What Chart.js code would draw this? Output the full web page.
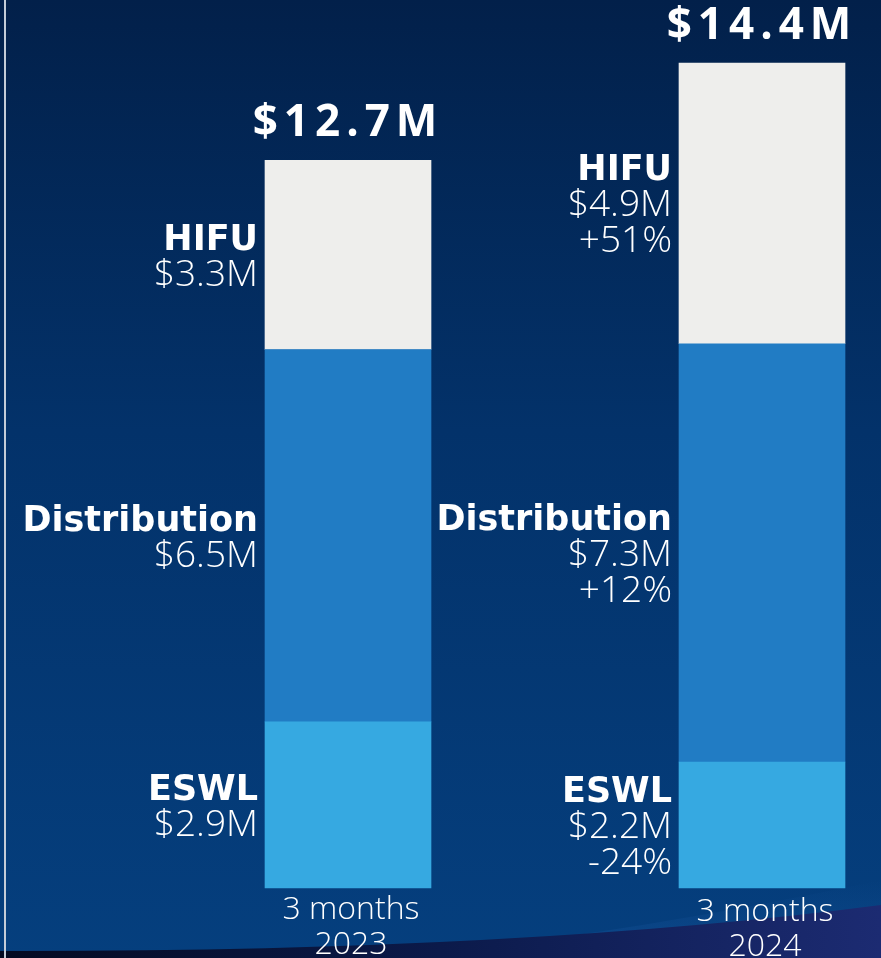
<!DOCTYPE html>
<html>
<head>
<meta charset="utf-8">
<script src="https://cdn.jsdelivr.net/npm/chart.js@4"></script>
<style>
  html, body { margin: 0; padding: 0; background: #03305f; }
  #wrap { width: 881px; height: 958px; position: relative; }
  canvas { display: block; }
</style>
</head>
<body>
<div id="wrap"><canvas id="c" width="881" height="958"></canvas></div>
<script>
// ---- data ----
const periodLines = [['3 months', '2023'], ['3 months', '2024']];
const segmentNames = ['ESWL', 'Distribution', 'HIFU'];
const eswlValues = [2.9, 2.2];
const distributionValues = [6.5, 7.3];
const hifuValues = [3.3, 4.9];
const eswlChange = [null, '-24%'];
const distributionChange = [null, '+12%'];
const hifuChange = [null, '+51%'];
const totalLabels = ['$12.7M', '$14.4M'];

const segmentColors = ['#36a9e1', '#217cc4', '#eeeeec'];
const seriesValues = [eswlValues, distributionValues, hifuValues];
const seriesChanges = [eswlChange, distributionChange, hifuChange];

const BOLD = 'bold 35px "DejaVu Sans"';
const LIGHT = '300 37px "Open Sans"';

const backgroundPlugin = {
  id: 'bg',
  beforeDraw(chart) {
    const ctx = chart.ctx, W = chart.width, H = chart.height;
    ctx.save();
    const g = ctx.createLinearGradient(0, 0, 0, H);
    g.addColorStop(0, '#02204a');
    g.addColorStop(0.45, '#03326a');
    g.addColorStop(1, '#053f7e');
    ctx.fillStyle = g;
    ctx.fillRect(0, 0, W, H);
    // soft glow above the swoosh on the right
    const gl = ctx.createLinearGradient(0, 880, 0, 930);
    gl.addColorStop(0, 'rgba(20,80,150,0)');
    gl.addColorStop(1, 'rgba(20,80,150,0.35)');
    ctx.fillStyle = gl;
    ctx.beginPath();
    ctx.moveTo(400, H);
    ctx.quadraticCurveTo(650, 930, W, 880);
    ctx.lineTo(W, H);
    ctx.closePath();
    ctx.fill();
    // dark swoosh at the bottom
    const sg = ctx.createLinearGradient(0, 0, W, 0);
    sg.addColorStop(0, '#040b22');
    sg.addColorStop(0.5, '#0b1a4a');
    sg.addColorStop(1, '#1c2b72');
    ctx.fillStyle = sg;
    ctx.beginPath();
    ctx.moveTo(0, 951);
    ctx.quadraticCurveTo(520, 952, W, 905);
    ctx.lineTo(W, H);
    ctx.lineTo(0, H);
    ctx.closePath();
    ctx.fill();
    // thin vertical rule at the left
    ctx.fillStyle = '#c3ccd8';
    ctx.fillRect(4, 0, 2, H);
    ctx.restore();
  }
};

const labelPlugin = {
  id: 'labels',
  afterDatasetsDraw(chart) {
    const ctx = chart.ctx;
    ctx.save();
    ctx.fillStyle = '#ffffff';
    const step = 36, capH = 26;
    chart.data.datasets.forEach((ds, di) => {
      const meta = chart.getDatasetMeta(di);
      meta.data.forEach((el, j) => {
        const v = ds.data[j];
        const lines = [
          { t: segmentNames[di], f: BOLD },
          { t: '$' + v.toFixed(1) + 'M', f: LIGHT }
        ];
        const ch = seriesChanges[di][j];
        if (ch) lines.push({ t: ch, f: LIGHT });
        const mid = (el.y + el.base) / 2;
        const h = capH + (lines.length - 1) * step;
        let base = mid - h / 2 + capH;
        const right = el.x - el.width / 2 - 7;
        ctx.textAlign = 'right';
        ctx.textBaseline = 'alphabetic';
        lines.forEach((ln, k) => {
          ctx.font = ln.f;
          ctx.fillText(ln.t, right, base + k * step);
        });
      });
    });
    // totals above each stack and period labels below
    const topMeta = chart.getDatasetMeta(chart.data.datasets.length - 1);
    const area = chart.chartArea;
    topMeta.data.forEach((el, j) => {
      ctx.textAlign = 'center';
      ctx.font = 'bold 44px "Open Sans"';
      ctx.letterSpacing = '6px';
      ctx.fillText(totalLabels[j], el.x, el.y - 24);
      ctx.letterSpacing = '0px';
      ctx.font = '300 32px "Open Sans"';
      periodLines[j].forEach((t, k) => {
        ctx.fillText(t, el.x + 3, area.bottom + 31 + j * 2 + k * 35);
      });
    });
    ctx.restore();
  }
};

new Chart(document.getElementById('c'), {
  type: 'bar',
  data: {
    labels: periodLines.map(p => p.join(' ')),
    datasets: seriesValues.map((vals, i) => ({
      label: segmentNames[i],
      data: vals,
      backgroundColor: segmentColors[i],
      borderWidth: 0,
      barThickness: 166,
      clip: false
    }))
  },
  options: {
    responsive: false,
    animation: false,
    devicePixelRatio: 1,
    layout: { padding: { left: 348, right: 119, top: 0, bottom: 70 } },
    plugins: { legend: { display: false }, tooltip: { enabled: false } },
    scales: {
      x: { stacked: true, display: false, offset: false },
      y: { stacked: true, display: false, min: 0, max: 15.5 }
    }
  },
  plugins: [backgroundPlugin, labelPlugin]
});
</script>
</body>
</html>
